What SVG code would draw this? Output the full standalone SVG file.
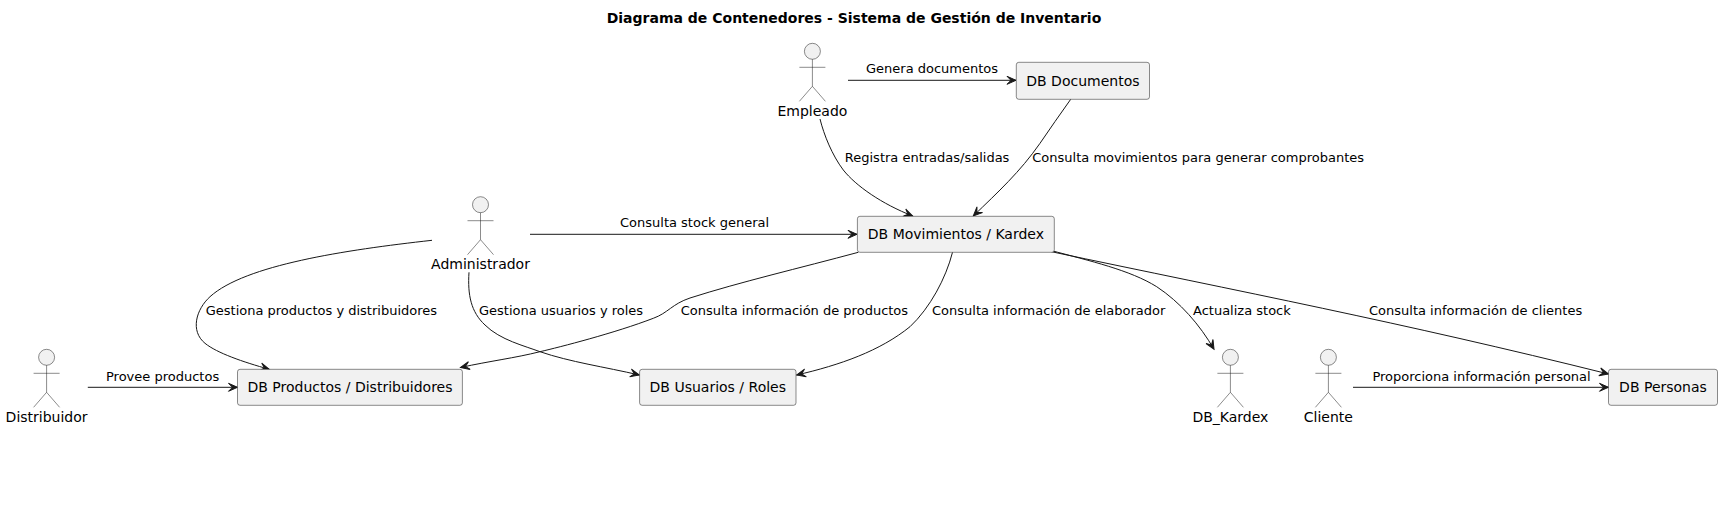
<svg xmlns="http://www.w3.org/2000/svg" width="1723" height="509" viewBox="0 0 1723 509">
<defs>
<style>
text{font-family:"DejaVu Sans",sans-serif;fill:#000}
.t{font-size:14px;font-weight:bold;text-anchor:middle}
.n{font-size:14px;text-anchor:middle}
.l{font-size:13px}
.b{fill:#F1F1F1;stroke:#181818;stroke-width:.5}
.a{fill:#F1F1F1;stroke:#181818;stroke-width:.5}
.c{fill:none;stroke:#181818;stroke-width:1;marker-end:url(#h)}
</style>
<marker id="h" viewBox="-12 -7 15 14" refX="0" refY="0" markerWidth="15" markerHeight="14" markerUnits="userSpaceOnUse" orient="auto"><path d="M-9,-4L0,0L-9,4L-5,0Z" fill="#181818" stroke="#181818" stroke-width="1"/></marker>
<g id="actor"><circle class="a" cx="0" cy="8" r="8"/><path class="a" fill="none" d="M0,16V43M-13,24H13M0,43L-13,58M0,43L13,58"/></g>
</defs>
<rect width="1723" height="509" fill="#fff"/>
<text class="t" x="854" y="23">Diagrama de Contenedores - Sistema de Gestión de Inventario</text>
<g id="connectors">
<path class="c" d="M848,80.3H1016"/>
<path class="c" d="M530,234.3H857"/>
<path class="c" d="M87.8,387.3H237.5"/>
<path class="c" d="M1353,387.3H1608.5"/>
<path class="c" d="M820,119C824,135 832,155 843.3,170C856,186 882,204 912.7,216"/>
<path class="c" d="M1070.7,99.3C1060,114 1050,129 1040,143.3C1020,172 998,192 973.3,216"/>
<path class="c" d="M432,240.3C345,250 245,265 210,296.7C196,309.5 190,331 205,343.3C217,353 243,362 269.3,369.3"/>
<path class="c" d="M469,272.3C467.5,295 471,312 485,325C500,340 525,346 540,351.7C570,362 605,367 639.3,375"/>
<path class="c" d="M858.3,252.3C800,268 740,282 690,298C672,304 668,313 653.3,318.3C615,333 560,347 540,351.7C515,358 490,361 460.5,367.5"/>
<path class="c" d="M952.5,252.3C946,278 930,308 910,326.7C880,351 840,365 796.7,375"/>
<path class="c" d="M1050,250.2C1090,261 1130,270 1156.7,286.7C1180,302 1200,325 1214,349.3"/>
<path class="c" d="M1050,251.4C1240,291.5 1400,322 1608.5,374"/>
<g id="labels">
<text class="l" x="866" y="73">Genera documentos</text>
<text class="l" x="620" y="226.7">Consulta stock general</text>
<text class="l" x="106" y="380.7">Provee productos</text>
<text class="l" x="1372.4" y="380.7">Proporciona información personal</text>
<text class="l" x="844.8" y="162">Registra entradas/salidas</text>
<text class="l" x="1032.3" y="162">Consulta movimientos para generar comprobantes</text>
<text class="l" x="205.7" y="315">Gestiona productos y distribuidores</text>
<text class="l" x="479" y="315">Gestiona usuarios y roles</text>
<text class="l" x="680.7" y="315">Consulta información de productos</text>
<text class="l" x="932" y="315">Consulta información de elaborador</text>
<text class="l" x="1193" y="315">Actualiza stock</text>
<text class="l" x="1369" y="315">Consulta información de clientes</text>
</g>
</g>
<g id="empleado"><use href="#actor" x="812.4" y="43.3"/><text class="n" x="812.4" y="116">Empleado</text></g>
<g id="administrador"><use href="#actor" x="480.5" y="196.7"/><text class="n" x="480.5" y="269">Administrador</text></g>
<g id="distribuidor"><use href="#actor" x="46.6" y="349.3"/><text class="n" x="46.6" y="422">Distribuidor</text></g>
<g id="db-kardex"><use href="#actor" x="1230.4" y="349.3"/><text class="n" x="1230.4" y="422">DB_Kardex</text></g>
<g id="cliente"><use href="#actor" x="1328.4" y="349.3"/><text class="n" x="1328.4" y="422">Cliente</text></g>
<g id="db-documentos"><rect class="b" x="1016.3" y="62.3" width="133.2" height="37" rx="2.5"/><text class="n" x="1082.9" y="85.7">DB Documentos</text></g>
<g id="db-movimientos"><rect class="b" x="857.4" y="216.3" width="196.9" height="36" rx="2.5"/><text class="n" x="955.9" y="239.2">DB Movimientos / Kardex</text></g>
<g id="db-productos"><rect class="b" x="237.5" y="369.3" width="224.9" height="36" rx="2.5"/><text class="n" x="350" y="392.2">DB Productos / Distribuidores</text></g>
<g id="db-usuarios"><rect class="b" x="639.6" y="369.3" width="156.4" height="36" rx="2.5"/><text class="n" x="717.8" y="392.2">DB Usuarios / Roles</text></g>
<g id="db-personas"><rect class="b" x="1608.5" y="369.3" width="109" height="36" rx="2.5"/><text class="n" x="1663" y="392.2">DB Personas</text></g>
</svg>
